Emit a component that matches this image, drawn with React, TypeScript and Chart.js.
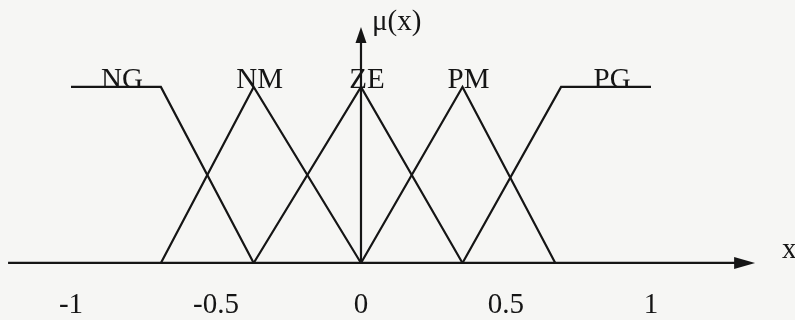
import { useEffect, useRef } from "react";
import { Chart, registerables } from "chart.js";

Chart.register(...registerables);

// Fuzzy sets on the universe of discourse x ∈ [-1, 1]
const setNames = ["NG", "NM", "ZE", "PM", "PG"];
const ngX = [-1, -0.69, -0.37];
const ngY = [1, 1, 0];
const nmX = [-0.69, -0.37, 0];
const nmY = [0, 1, 0];
const zeX = [-0.37, 0, 0.35];
const zeY = [0, 1, 0];
const pmX = [0, 0.35, 0.67];
const pmY = [0, 1, 0];
const pgX = [0.35, 0.69, 1];
const pgY = [0, 1, 1];

const tickValues = [-1, -0.5, 0, 0.5, 1];
const tickLabels = ["-1", "-0.5", "0", "0.5", "1"];

const xAxisTitle = "x";
const yAxisTitle = "μ(x)";

// extent of the drawn axes, in data units
const xAxisFrom = -1.217;
const xAxisTo = 1.359;
const yAxisTo = 1.341;

const INK = "#151515";
const PAPER = "#f6f6f4";
const FONT = "'Liberation Serif', 'Times New Roman', serif";

const sets = [
  [ngX, ngY],
  [nmX, nmY],
  [zeX, zeY],
  [pmX, pmY],
  [pgX, pgY],
];

// a set's label sits above the middle of its plateau (or its peak)
function labelAnchor(xs: number[], ys: number[]): number {
  const top = xs.filter((_, i) => ys[i] === 1);
  return (Math.min(...top) + Math.max(...top)) / 2;
}

const axesPlugin = {
  id: "fuzzyAxes",
  beforeDatasetsDraw(chart: any) {
    const { ctx, scales } = chart;
    const xs = scales.x;
    const ys = scales.y;
    const y0 = ys.getPixelForValue(0);
    const x0 = xs.getPixelForValue(0);
    const xStart = xs.getPixelForValue(xAxisFrom);
    const xEnd = xs.getPixelForValue(xAxisTo);
    const yTop = ys.getPixelForValue(yAxisTo);
    ctx.save();
    ctx.strokeStyle = INK;
    ctx.fillStyle = INK;
    ctx.lineWidth = 2.2;
    // horizontal axis
    ctx.beginPath();
    ctx.moveTo(xStart, y0);
    ctx.lineTo(xEnd - 18, y0);
    ctx.stroke();
    ctx.beginPath();
    ctx.moveTo(xEnd, y0);
    ctx.lineTo(xEnd - 21, y0 - 6);
    ctx.lineTo(xEnd - 21, y0 + 6);
    ctx.closePath();
    ctx.fill();
    // vertical axis
    ctx.beginPath();
    ctx.moveTo(x0, y0);
    ctx.lineTo(x0, yTop + 14);
    ctx.stroke();
    ctx.beginPath();
    ctx.moveTo(x0, yTop);
    ctx.lineTo(x0 - 5.5, yTop + 16);
    ctx.lineTo(x0 + 5.5, yTop + 16);
    ctx.closePath();
    ctx.fill();
    ctx.restore();
  },
  afterDatasetsDraw(chart: any) {
    const { ctx, scales } = chart;
    const xs = scales.x;
    const ys = scales.y;
    const y0 = ys.getPixelForValue(0);
    const y1 = ys.getPixelForValue(1);
    const x0 = xs.getPixelForValue(0);
    ctx.save();
    ctx.fillStyle = INK;
    ctx.font = `29px ${FONT}`;
    ctx.textBaseline = "alphabetic";
    // tick labels
    ctx.textAlign = "center";
    tickValues.forEach((v, i) => {
      ctx.fillText(tickLabels[i], xs.getPixelForValue(v), y0 + 50);
    });
    // set names
    sets.forEach(([sx, sy], i) => {
      ctx.fillText(setNames[i], xs.getPixelForValue(labelAnchor(sx, sy)) + 6, y1 + 1);
    });
    // axis titles
    ctx.textAlign = "left";
    ctx.fillText(yAxisTitle, x0 + 11, ys.getPixelForValue(yAxisTo) + 3);
    ctx.fillText(xAxisTitle, xs.getPixelForValue(xAxisTo) + 27, y0 - 5);
    ctx.restore();
  },
};

export default function App() {
  const canvasRef = useRef<HTMLCanvasElement | null>(null);

  useEffect(() => {
    const canvas = canvasRef.current;
    if (!canvas) return;
    const chart = new Chart(canvas, {
      type: "scatter",
      data: {
        datasets: sets.map(([sx, sy], i) => ({
          label: setNames[i],
          data: sx.map((x, j) => ({ x, y: sy[j] })),
          showLine: true,
          borderColor: INK,
          borderWidth: 2.2,
          pointRadius: 0,
          tension: 0,
          fill: false,
        })),
      },
      options: {
        animation: false,
        responsive: true,
        maintainAspectRatio: false,
        layout: { padding: 0 },
        plugins: {
          legend: { display: false },
          tooltip: { enabled: false },
        },
        scales: {
          x: { type: "linear", min: -1.2448, max: 1.4966, display: false },
          y: { type: "linear", min: -0.324, max: 1.494, display: false },
        },
      },
      plugins: [axesPlugin],
    });
    return () => chart.destroy();
  }, []);

  return (
    <div
      style={{
        position: "fixed",
        left: 0,
        top: 0,
        width: 795,
        height: 320,
        background: PAPER,
      }}
    >
      <canvas ref={canvasRef} />
    </div>
  );
}
